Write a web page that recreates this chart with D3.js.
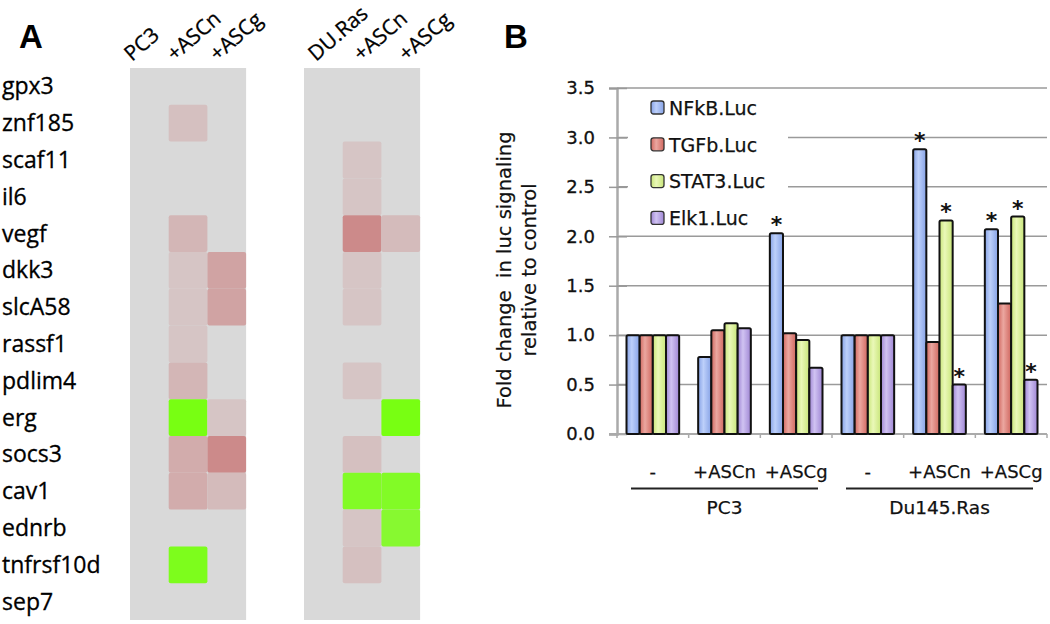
<!DOCTYPE html>
<html>
<head>
<meta charset="utf-8">
<script src="https://cdn.jsdelivr.net/npm/d3@7"></script>
<style>
body { margin: 0; background: #fff; }
svg { display: block; }
</style>
</head>
<body>
<svg class="canvas"></svg>
<script>
// panel A : heatmap (0 = no change, >0 up (red), <0 down (green))
var genes = ["gpx3","znf185","scaf11","il6","vegf","dkk3","slcA58","rassf1","pdlim4","erg","socs3","cav1","ednrb","tnfrsf10d","sep7"];
var pc3Cols = ["PC3","+ASCn","+ASCg"];
var duCols = ["DU.Ras","+ASCn","+ASCg"];
var pc3Vals = [
	[0,0,0],[0,0.25,0],[0,0,0],[0,0,0],[0,0.35,0],
	[0,0.2,0.55],[0,0.2,0.55],[0,0.2,0],[0,0.35,0],[0,-1,0.2],
	[0,0.45,0.8],[0,0.45,0.3],[0,0,0],[0,-0.95,0],[0,0,0]
];
var duVals = [
	[0,0,0],[0,0,0],[0,0.2,0],[0,0.2,0],[0,0.8,0.3],
	[0,0.2,0],[0,0.2,0],[0,0,0],[0,0.2,0],[0,0,-1],
	[0,0.25,0],[0,-0.9,-0.9],[0,0.2,-0.85],[0,0.25,0],[0,0,0]
];

// panel B : luciferase reporter bars
var groups = ["-","+ASCn","+ASCg","-","+ASCn","+ASCg"];
var cellLines = ["PC3","Du145.Ras"];
var series = ["NFkB.Luc","TGFb.Luc","STAT3.Luc","Elk1.Luc"];
var nfkb  = [1, 0.78, 2.03, 1, 2.88, 2.07];
var tgfb  = [1, 1.05, 1.02, 1, 0.93, 1.32];
var stat3 = [1, 1.12, 0.95, 1, 2.16, 2.20];
var elk1  = [1, 1.07, 0.67, 1, 0.50, 0.55];
var stars = [[2,0],[4,0],[4,2],[4,3],[5,0],[5,2],[5,3]]; // [group, series]
var yTicks = [0, 0.5, 1.0, 1.5, 2.0, 2.5, 3.0, 3.5];

var width = 1050,
	height = 624;

var ROW_TOP = 68;
var ROW_H = 36.8;
var COL_W = 38.7;

var svg = d3.select(".canvas")
	.attr("width", width)
	.attr("height", height);

var redScale = d3.scaleLinear().domain([0,1]).range(["#d9d9d9","#c97676"]);
var greenScale = d3.scaleLinear().domain([0,1]).range(["#d9d9d9","#78ff12"]);

function cellColor(v) {
	return v >= 0 ? redScale(v) : greenScale(-v);
}

// ---------- panel A ----------
svg.append("text")
	.attr("x", 19).attr("y", 48)
	.style("font", "bold 33px 'Liberation Sans', Arial, sans-serif")
	.text("A");

var yRow = d3.scaleBand().domain(genes).range([ROW_TOP, ROW_TOP + ROW_H * genes.length]);

svg.selectAll(".gene").data(genes)
	.enter().append("text")
	.attr("class","gene")
	.attr("x", 2)
	.attr("y", function(d) { return yRow(d) + ROW_H / 2; })
	.attr("dy", ".35em")
	.style("font", "23px 'Open Sans', sans-serif")
	.style("fill", "#000")
	.style("stroke", "#000").style("stroke-width", 0.3)
	.text(function(d) { return d; });

function drawHeat(left, cols, vals, shift, step) {
	var x = d3.scaleBand().domain(d3.range(cols.length)).range([left, left + COL_W * cols.length]);
	var g = svg.append("g");
	g.append("rect")
		.attr("x", left).attr("y", ROW_TOP)
		.attr("width", COL_W * cols.length)
		.attr("height", ROW_H * genes.length)
		.attr("fill", "#d9d9d9");
	var cells = [];
	vals.forEach(function(row, r) {
		row.forEach(function(v, c) { if (v !== 0) cells.push({r: r, c: c, v: v}); });
	});
	g.selectAll(".cell").data(cells)
		.enter().append("rect")
		.attr("class","cell")
		.attr("x", function(d) { return x(d.c); })
		.attr("y", function(d) { return yRow(genes[d.r]); })
		.attr("width", x.bandwidth())
		.attr("height", yRow.bandwidth())
		.attr("rx", 2).attr("ry", 2)
		.attr("fill", function(d) { return cellColor(d.v); });
	g.selectAll(".hdr").data(cols)
		.enter().append("text")
		.attr("class","hdr")
		.attr("transform", function(d,i) {
			return "translate(" + (x(i) + shift + i * step) + "," + 62 + ") rotate(-41)"; })
		.style("font", "21px 'Open Sans', sans-serif")
		.style("fill", "#000")
		.style("stroke", "#000").style("stroke-width", 0.3)
		.text(function(d) { return d; });
}

drawHeat(130, pc3Cols, pc3Vals, 2, 4);
drawHeat(304, duCols, duVals, 12, 6.5);

// ---------- panel B ----------
svg.append("text")
	.attr("x", 504).attr("y", 48)
	.style("font", "bold 33px 'Liberation Sans', Arial, sans-serif")
	.text("B");

var PL = 617, PR = 1047, PB = 434, PT = 88;
var y = d3.scaleLinear().domain([0, 3.5]).range([PB, PT]);
var x0 = d3.scaleBand().domain(d3.range(groups.length)).range([PL, PR]);
var x1 = d3.scaleBand().domain(d3.range(series.length)).range([9.5, x0.bandwidth() - 9.5]);

var values = [nfkb, tgfb, stat3, elk1];
var baseCols = ["#86a2e6","#d0675f","#c8e579","#9f86d4"];
var lightCols = ["#bdd0fa","#eba7a0","#eaf8b8","#d0c3f2"];

var defs = svg.append("defs");
series.forEach(function(s, i) {
	var gr = defs.append("linearGradient").attr("id", "grad" + i)
		.attr("x1","0%").attr("x2","100%").attr("y1","0%").attr("y2","0%");
	gr.append("stop").attr("offset","0%").attr("stop-color", baseCols[i]);
	gr.append("stop").attr("offset","40%").attr("stop-color", lightCols[i]);
	gr.append("stop").attr("offset","100%").attr("stop-color", baseCols[i]);
});
var shadow = defs.append("filter").attr("id","blur");
shadow.append("feGaussianBlur").attr("stdDeviation", 1.2);

// gridlines
svg.selectAll(".grid").data(yTicks.slice(1))
	.enter().append("line")
	.attr("class","grid")
	.attr("x1", PL).attr("x2", PR)
	.attr("y1", function(d) { return y(d); })
	.attr("y2", function(d) { return y(d); })
	.attr("stroke", "#9a9a9a").attr("stroke-width", 1.5);

// y axis
var yAxis = d3.axisLeft(y).tickValues(yTicks).tickFormat(d3.format(".1f")).tickSize(8).tickPadding(14);
var ya = svg.append("g").attr("transform", "translate(" + PL + ",0)").call(yAxis);
ya.select(".domain").attr("stroke", "#aaa").attr("stroke-width", 2.5);
ya.selectAll(".tick line").attr("stroke", "#999").attr("stroke-width", 1.5).attr("x2", 10).attr("x1", -8);
ya.selectAll(".tick text")
	.style("font", "18px 'DejaVu Sans', sans-serif")
	.style("fill", "#111")
	.style("stroke", "#111").style("stroke-width", 0.3);

// legend background hides gridlines behind it
svg.append("rect")
	.attr("x", 628).attr("y", 93).attr("width", 160).attr("height", 135)
	.attr("fill", "#fff");

// x axis
svg.append("line")
	.attr("x1", PL - 8).attr("x2", PR)
	.attr("y1", PB).attr("y2", PB)
	.attr("stroke", "#aaa").attr("stroke-width", 2);
svg.selectAll(".xtick").data(d3.range(groups.length + 1))
	.enter().append("line")
	.attr("class","xtick")
	.attr("x1", function(d) { return PL + d * x0.step(); })
	.attr("x2", function(d) { return PL + d * x0.step(); })
	.attr("y1", PB).attr("y2", PB + 4)
	.attr("stroke", "#aaa").attr("stroke-width", 1.5);

// bars
var barData = [];
groups.forEach(function(gname, gi) {
	series.forEach(function(s, si) {
		barData.push({g: gi, s: si, v: values[si][gi]});
	});
});

svg.selectAll(".bar").data(barData)
	.enter().append("rect")
	.attr("class","bar")
	.attr("x", function(d) { return x0(d.g) + x1(d.s); })
	.attr("y", function(d) { return y(d.v); })
	.attr("width", x1.bandwidth())
	.attr("height", function(d) { return PB - y(d.v); })
	.attr("rx", 1.5)
	.attr("fill", function(d) { return "url(#grad" + d.s + ")"; })
	.attr("stroke", "#111")
	.attr("stroke-width", 2);

svg.selectAll(".star").data(stars)
	.enter().append("text")
	.attr("class","star")
	.attr("x", function(d) { return x0(d[0]) + x1(d[1]) + x1.bandwidth() / 2; })
	.attr("y", function(d) { return y(values[d[1]][d[0]]) - 1; })
	.attr("text-anchor","middle")
	.style("font", "bold 22px 'DejaVu Sans', sans-serif")
	.style("fill", "#111")
	.text("*");

// legend
var leg = svg.selectAll(".leg").data(series)
	.enter().append("g")
	.attr("class","leg")
	.attr("transform", function(d,i) { return "translate(651," + (108 + i * 36.8) + ")"; });
leg.append("rect")
	.attr("x", 0).attr("y", -7)
	.attr("width", 13).attr("height", 13)
	.attr("rx", 2.5)
	.attr("fill", function(d,i) { return "url(#grad" + i + ")"; })
	.attr("stroke", "#333").attr("stroke-width", 1.3);
leg.append("text")
	.attr("x", 18).attr("y", 0)
	.attr("dy", ".36em")
	.style("font", "19px 'DejaVu Sans', sans-serif")
	.style("fill", "#111")
	.style("stroke", "#111").style("stroke-width", 0.25)
	.text(function(d) { return d; });

// category labels
svg.selectAll(".cat").data(groups)
	.enter().append("text")
	.attr("class","cat")
	.attr("x", function(d,i) { return x0(i) + x0.bandwidth() / 2; })
	.attr("y", 478)
	.attr("text-anchor","middle")
	.style("font", "18px 'DejaVu Sans', sans-serif")
	.style("fill", "#111")
	.style("stroke", "#111").style("stroke-width", 0.25)
	.text(function(d) { return d; });

// cell line brackets
cellLines.forEach(function(name, i) {
	var a = PL + i * 3 * x0.step() + 14,
		b = PL + (i + 1) * 3 * x0.step() - 14;
	svg.append("line")
		.attr("x1", a).attr("x2", b).attr("y1", 491).attr("y2", 491)
		.attr("stroke", "#888").attr("stroke-width", 3)
		.attr("filter", "url(#blur)");
	svg.append("line")
		.attr("x1", a).attr("x2", b).attr("y1", 488.5).attr("y2", 488.5)
		.attr("stroke", "#222").attr("stroke-width", 2.2);
	svg.append("text")
		.attr("x", (a + b) / 2).attr("y", 514)
		.attr("text-anchor","middle")
		.style("font", "18.5px 'DejaVu Sans', sans-serif")
		.style("fill", "#111")
		.style("stroke", "#111").style("stroke-width", 0.25)
		.text(name);
});

// y axis title
var yt = svg.append("text")
	.attr("transform", "translate(511,270) rotate(-90)")
	.attr("text-anchor","middle")
	.style("font", "19.5px 'DejaVu Sans', sans-serif")
	.style("fill", "#111")
	.style("stroke", "#111").style("stroke-width", 0.2);
yt.append("tspan").attr("x", 0).attr("dy", 0).attr("xml:space","preserve").text("Fold change  in luc signaling");
yt.append("tspan").attr("x", 0).attr("dy", 25).text("relative to  control");
</script>
</body>
</html>
